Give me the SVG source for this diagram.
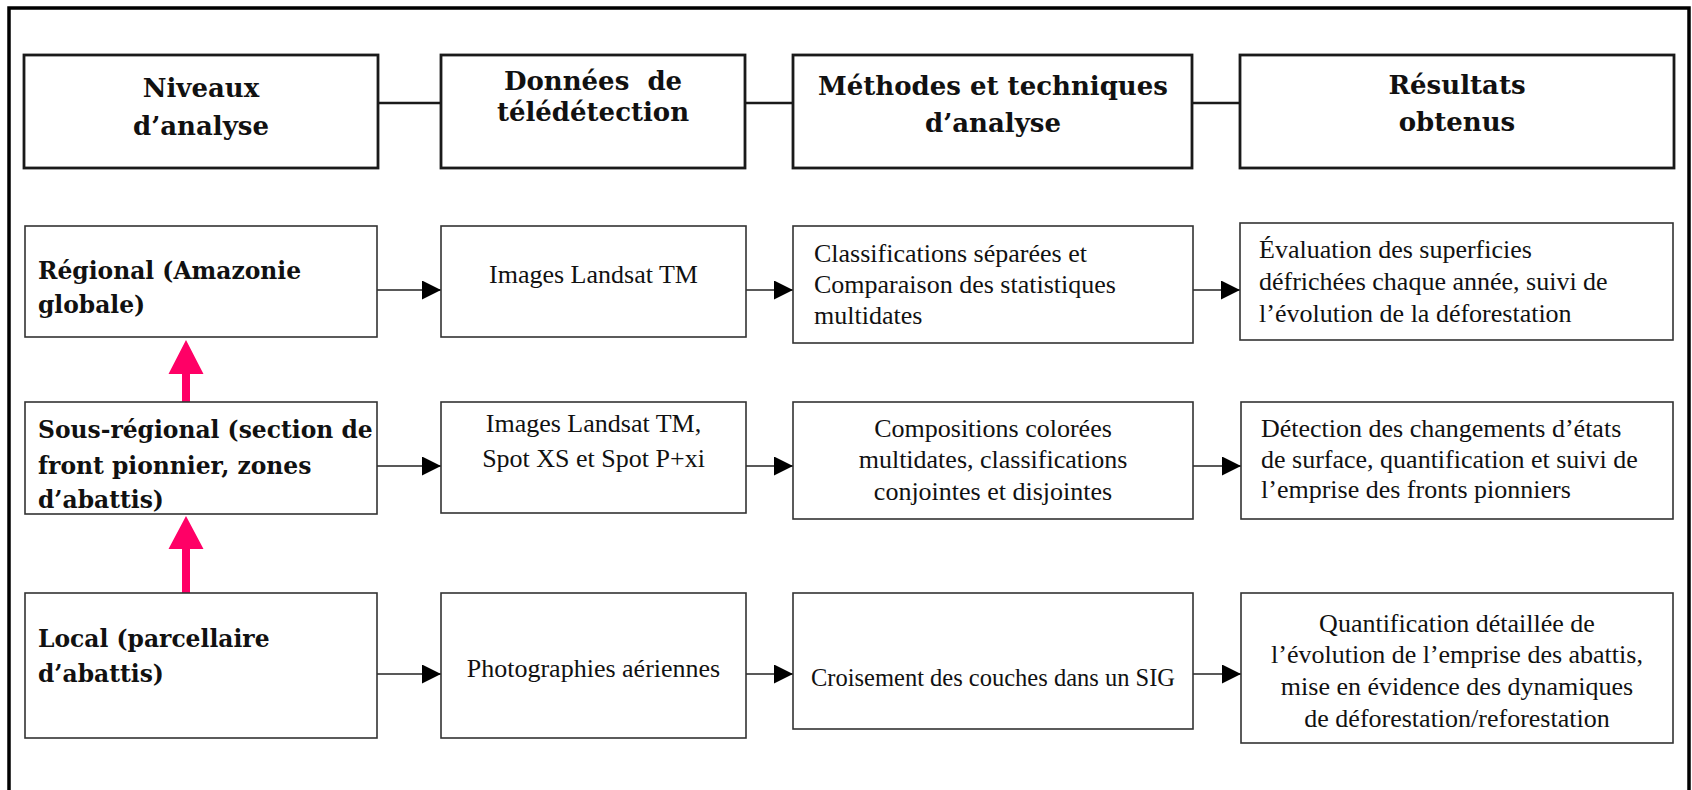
<svg xmlns="http://www.w3.org/2000/svg" width="1692" height="790" viewBox="0 0 1692 790">
<style>
.hbox{fill:#fff;stroke:#1a1a1a;stroke-width:2.8}
.box{fill:#fff;stroke:#333;stroke-width:1.6}
.ht{font-family:"DejaVu Serif","Liberation Serif",serif;font-weight:bold;font-size:26px;fill:#111;text-anchor:middle}
.lt{font-family:"DejaVu Serif","Liberation Serif",serif;font-weight:bold;font-size:23.4px;fill:#111}
.bt{font-family:"Liberation Serif","Times New Roman",serif;font-size:26px;fill:#111}
.c{text-anchor:middle}
.hl{stroke:#1a1a1a;stroke-width:2.6;fill:none}
.al{stroke:#222;stroke-width:1.6;fill:none;marker-end:url(#ah)}
.pk{fill:#ff0066}
</style>
<defs>
<marker id="ah" markerUnits="userSpaceOnUse" markerWidth="20" markerHeight="20" refX="19" refY="9.5" orient="auto">
<path d="M0,0 L19,9.5 L0,19 Z" fill="#000"/>
</marker>
</defs>
<rect x="9" y="8" width="1680" height="800" fill="#fff" stroke="#000" stroke-width="3.5"/>

<g id="connectors">
<line class="hl" x1="378" y1="103" x2="441" y2="103"/>
<line class="hl" x1="745" y1="103" x2="793" y2="103"/>
<line class="hl" x1="1192" y1="103" x2="1240" y2="103"/>
<line class="al" x1="377" y1="290" x2="441" y2="290"/>
<line class="al" x1="746" y1="290" x2="793" y2="290"/>
<line class="al" x1="1193" y1="290" x2="1240" y2="290"/>
<line class="al" x1="377" y1="466" x2="441" y2="466"/>
<line class="al" x1="746" y1="466" x2="793" y2="466"/>
<line class="al" x1="1193" y1="466" x2="1241" y2="466"/>
<line class="al" x1="377" y1="674" x2="441" y2="674"/>
<line class="al" x1="746" y1="674" x2="793" y2="674"/>
<line class="al" x1="1193" y1="674" x2="1241" y2="674"/>
<path class="pk" d="M186,340 L203.5,374 L190,374 L190,402 L182,402 L182,374 L168.5,374 Z"/>
<path class="pk" d="M186,516 L203.5,549 L190,549 L190,593 L182,593 L182,549 L168.5,549 Z"/>
</g>

<g id="h1"><rect class="hbox" x="24" y="55" width="354" height="113"/>
<text class="ht" x="201" y="97">Niveaux</text><text class="ht" x="201" y="135">d’analyse</text></g>
<g id="h2"><rect class="hbox" x="441" y="55" width="304" height="113"/>
<text class="ht" x="593" y="90" xml:space="preserve">Données  de</text><text class="ht" x="593" y="121">télédétection</text></g>
<g id="h3"><rect class="hbox" x="793" y="55" width="399" height="113"/>
<text class="ht" x="993" y="95">Méthodes et techniques</text><text class="ht" x="993" y="132">d’analyse</text></g>
<g id="h4"><rect class="hbox" x="1240" y="55" width="434" height="113"/>
<text class="ht" x="1457" y="94">Résultats</text><text class="ht" x="1457" y="131">obtenus</text></g>

<g id="r1c1"><rect class="box" x="25" y="226" width="352" height="111"/>
<text class="lt" x="38" y="279">Régional (Amazonie</text><text class="lt" x="38" y="313">globale)</text></g>
<g id="r1c2"><rect class="box" x="441" y="226" width="305" height="111"/>
<text class="bt c" x="593.5" y="283">Images Landsat TM</text></g>
<g id="r1c3"><rect class="box" x="793" y="226" width="400" height="117"/>
<text class="bt" x="814" y="262">Classifications séparées et</text><text class="bt" x="814" y="293">Comparaison des statistiques</text><text class="bt" x="814" y="324">multidates</text></g>
<g id="r1c4"><rect class="box" x="1240" y="223" width="433" height="117"/>
<text class="bt" x="1259" y="258">Évaluation des superficies</text><text class="bt" x="1259" y="290">défrichées chaque année, suivi de</text><text class="bt" x="1259" y="322">l’évolution de la déforestation</text></g>

<g id="r2c1"><rect class="box" x="25" y="402" width="352" height="112"/>
<text class="lt" x="38" y="438">Sous-régional (section de</text><text class="lt" x="38" y="474">front pionnier, zones</text><text class="lt" x="38" y="508">d’abattis)</text></g>
<g id="r2c2"><rect class="box" x="441" y="402" width="305" height="111"/>
<text class="bt c" x="593.5" y="432">Images Landsat TM,</text><text class="bt c" x="593.5" y="467">Spot XS et Spot P+xi</text></g>
<g id="r2c3"><rect class="box" x="793" y="402" width="400" height="117"/>
<text class="bt c" x="993" y="437">Compositions colorées</text><text class="bt c" x="993" y="468">multidates, classifications</text><text class="bt c" x="993" y="500">conjointes et disjointes</text></g>
<g id="r2c4"><rect class="box" x="1241" y="402" width="432" height="117"/>
<text class="bt" x="1261" y="437">Détection des changements d’états</text><text class="bt" x="1261" y="468">de surface, quantification et suivi de</text><text class="bt" x="1261" y="498">l’emprise des fronts pionniers</text></g>

<g id="r3c1"><rect class="box" x="25" y="593" width="352" height="145"/>
<text class="lt" x="38" y="647">Local (parcellaire</text><text class="lt" x="38" y="682">d’abattis)</text></g>
<g id="r3c2"><rect class="box" x="441" y="593" width="305" height="145"/>
<text class="bt c" x="593.5" y="677">Photographies aériennes</text></g>
<g id="r3c3"><rect class="box" x="793" y="593" width="400" height="136"/>
<text class="bt c" x="993" y="686" style="font-size:24.5px">Croisement des couches dans un SIG</text></g>
<g id="r3c4"><rect class="box" x="1241" y="593" width="432" height="150"/>
<text class="bt c" x="1457" y="632">Quantification détaillée de</text><text class="bt c" x="1457" y="663">l’évolution de l’emprise des abattis,</text><text class="bt c" x="1457" y="695">mise en évidence des dynamiques</text><text class="bt c" x="1457" y="727">de déforestation/reforestation</text></g>
</svg>
